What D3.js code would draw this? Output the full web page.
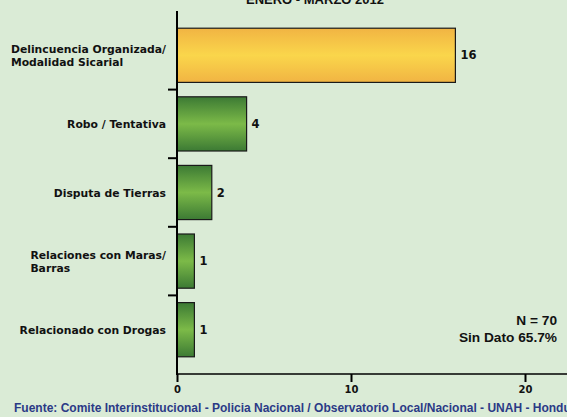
<!DOCTYPE html>
<html>
<head>
<meta charset="utf-8">
<script src="https://cdn.jsdelivr.net/npm/d3@7"></script>
<style>
  body { margin: 0; background: #daebd6; }
  svg { display: block; }
  .catLabel { font-family: "DejaVu Sans", Verdana, sans-serif; font-weight: bold; font-size: 10.8px; fill: #111; }
  .valLabel { font-family: "DejaVu Sans", Verdana, sans-serif; font-weight: bold; font-size: 11.5px; fill: #111; }
  .axis text { font-family: "DejaVu Sans", Verdana, sans-serif; font-weight: bold; font-size: 10px; fill: #111; }
  .note { font-family: "Liberation Sans", Arial, sans-serif; font-weight: bold; font-size: 13.7px; fill: #111; }
  .source { font-family: "Liberation Sans", Arial, sans-serif; font-weight: bold; font-size: 12px; fill: #2b3a86; }
  .title { font-family: "Liberation Sans", Arial, sans-serif; font-weight: bold; font-size: 13px; fill: #111; }
</style>
</head>
<body>
<script>
(function (){

    //chart data
    var categories = [
        ["Delincuencia Organizada/", "Modalidad Sicarial"],
        ["Robo / Tentativa"],
        ["Disputa de Tierras"],
        ["Relaciones con Maras/", "Barras"],
        ["Relacionado con Drogas"]
    ];
    var values = [16, 4, 2, 1, 1];
    var highlight = [true, false, false, false, false];
    var xTicks = [0, 10, 20];
    var titleText = "ENERO - MARZO 2012";
    var noteLines = ["N = 70", "Sin Dato 65.7%"];
    var sourceText = "Fuente: Comite Interinstitucional - Policia Nacional / Observatorio Local/Nacional - UNAH - Honduras";

    //frame
    var width = 567,
        height = 417,
        left = 177,
        plotTop = 11,
        plotBottom = 374;

    var svg = d3.select("body")
        .append("svg")
        .attr("width", width)
        .attr("height", height);

    svg.append("rect")
        .attr("width", width)
        .attr("height", height)
        .attr("fill", "#daebd6");

    //gradients
    var defs = svg.append("defs");
    function addGradient(id, edge, mid){
        var g = defs.append("linearGradient")
            .attr("id", id)
            .attr("x1", 0).attr("y1", 0)
            .attr("x2", 0).attr("y2", 1);
        g.append("stop").attr("offset", "0%").attr("stop-color", edge);
        g.append("stop").attr("offset", "50%").attr("stop-color", mid);
        g.append("stop").attr("offset", "100%").attr("stop-color", edge);
    }
    addGradient("gradGold", "#f1b443", "#fad64b");
    addGradient("gradGreen", "#3c7a34", "#7cba48");

    //scales
    var x = d3.scaleLinear()
        .domain([0, 20])
        .range([left, 525]);

    var y = d3.scaleBand()
        .domain(d3.range(values.length))
        .range([21, 364])
        .paddingInner(0.21)
        .paddingOuter(0.105);

    //title (cut at top, as in the source image)
    svg.append("text")
        .attr("class", "title")
        .attr("x", 315)
        .attr("y", 4)
        .attr("text-anchor", "middle")
        .text(titleText);

    //bars
    svg.selectAll(".bar")
        .data(values)
        .enter()
        .append("rect")
        .attr("class", "bar")
        .attr("x", x(0))
        .attr("y", function(d, i){ return y(i); })
        .attr("width", function(d){ return x(d) - x(0); })
        .attr("height", y.bandwidth())
        .attr("fill", function(d, i){ return highlight[i] ? "url(#gradGold)" : "url(#gradGreen)"; })
        .attr("stroke", "#1a1a1a")
        .attr("stroke-width", 1.2);

    //value labels
    svg.selectAll(".valLabel")
        .data(values)
        .enter()
        .append("text")
        .attr("class", "valLabel")
        .attr("x", function(d){ return x(d) + 5; })
        .attr("y", function(d, i){ return y(i) + y.bandwidth() / 2 + 4; })
        .text(function(d){ return d; });

    //category labels
    categories.forEach(function(lines, i){
        var cy = y(i) + y.bandwidth() / 2;
        var t = svg.append("text").attr("class", "catLabel");
        lines.forEach(function(line, j){
            t.append("tspan")
                .attr("y", lines.length === 1 ? cy + 4 : cy - 2 + j * 12.8)
                .text(line);
        });
        var w = d3.max(t.selectAll("tspan").nodes(), function(n){ return n.getComputedTextLength(); });
        t.selectAll("tspan").attr("x", 166 - w);
    });

    //category ticks between bands
    var step = y.step();
    var tickYs = d3.range(1, values.length).map(function(i){ return y(i) - step * y.paddingInner() / 2; });
    svg.selectAll(".catTick")
        .data(tickYs)
        .enter()
        .append("line")
        .attr("x1", left - 9)
        .attr("x2", left)
        .attr("y1", function(d){ return d; })
        .attr("y2", function(d){ return d; })
        .attr("stroke", "#000")
        .attr("stroke-width", 2);

    //x axis
    var xAxis = d3.axisBottom(x)
        .tickValues(xTicks)
        .tickSize(8)
        .tickPadding(4);

    var axis = svg.append("g")
        .attr("class", "axis")
        .attr("transform", "translate(0," + plotBottom + ")")
        .call(xAxis);
    axis.select(".domain").remove();
    axis.selectAll(".tick line").attr("stroke", "#000").attr("stroke-width", 2);

    svg.append("line")
        .attr("x1", left)
        .attr("x2", width)
        .attr("y1", plotBottom)
        .attr("y2", plotBottom)
        .attr("stroke", "#000")
        .attr("stroke-width", 1.5);

    //y axis line
    svg.append("line")
        .attr("x1", left)
        .attr("x2", left)
        .attr("y1", plotTop)
        .attr("y2", plotBottom + 1)
        .attr("stroke", "#000")
        .attr("stroke-width", 2);

    //note
    svg.selectAll(".note")
        .data(noteLines)
        .enter()
        .append("text")
        .attr("class", "note")
        .attr("x", 557)
        .attr("y", function(d, i){ return 325 + i * 17; })
        .attr("text-anchor", "end")
        .text(function(d){ return d; });

    //source (runs past the right edge, as in the source image)
    svg.append("text")
        .attr("class", "source")
        .attr("x", 14)
        .attr("y", 412)
        .text(sourceText);

})();
</script>
</body>
</html>
